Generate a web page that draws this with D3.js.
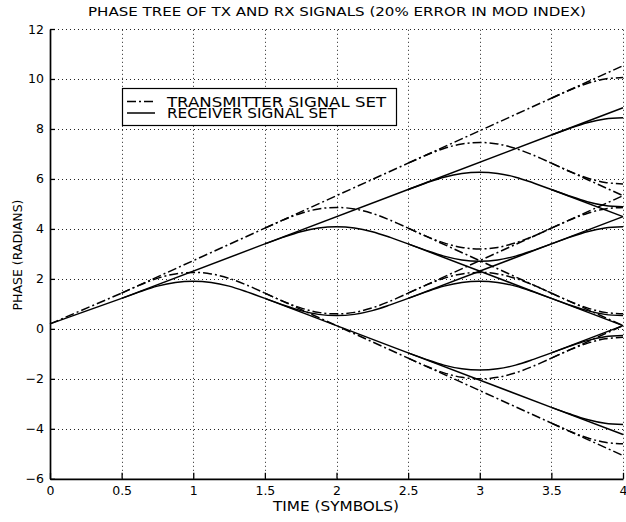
<!DOCTYPE html>
<html><head><meta charset="utf-8">
<script src="https://cdn.jsdelivr.net/npm/d3@7"></script>
<style>
html,body{margin:0;padding:0;background:#fff;}
svg{display:block;}
text{font-family:"DejaVu Sans","Liberation Sans",Arial,sans-serif;fill:#000;}
</style></head><body>
<svg id="chart" width="626" height="522"></svg>
<script>
// ---- data ----
const xTicks = [0, 0.5, 1, 1.5, 2, 2.5, 3, 3.5, 4];
const xTickLabels = ["0", "0.5", "1", "1.5", "2", "2.5", "3", "3.5", "4"];
const yTicks = [-6, -4, -2, 0, 2, 4, 6, 8, 10, 12];
const seriesNames = ["TRANSMITTER SIGNAL SET", "RECEIVER SIGNAL SET"];
const titleText = "PHASE TREE OF TX AND RX SIGNALS (20% ERROR IN MOD INDEX)";
const xTitle = "TIME (SYMBOLS)";
const yTitle = "PHASE (RADIANS)";
const curveStep = 0.125; // time step between values of a curved branch

// straight branches: [t0, phase0, t1, phase1]
const txLines = [
  [0, 0.20, 0.5, 1.43],
  [0.5, 1.43, 1.5, 4.03],
  [1.5, 4.03, 2.5, 6.63],
  [1.5, 1.43, 2.5, -1.17],
  [2.5, 6.63, 3.5, 9.23],
  [2.5, 4.03, 3.5, 1.43],
  [2.5, 1.43, 3.5, 4.03],
  [2.5, -1.17, 3.5, -3.77],
  [3.5, 9.23, 4, 10.53],
  [3.5, 6.63, 4, 5.33],
  [3.5, 4.03, 4, 5.33],
  [3.5, 1.43, 4, 0.13],
  [3.5, -1.17, 4, 0.13],
  [3.5, -3.77, 4, -5.07]
];
const rxLines = [
  [0, 0.20, 0.5, 1.22],
  [0.5, 1.22, 1.5, 3.40],
  [1.5, 3.40, 2.5, 5.58],
  [1.5, 1.22, 2.5, -0.96],
  [2.5, 5.58, 3.5, 7.76],
  [2.5, 3.40, 3.5, 1.22],
  [2.5, 1.22, 3.5, 3.40],
  [2.5, -0.96, 3.5, -3.14],
  [3.5, 7.76, 4, 8.85],
  [3.5, 5.58, 4, 4.49],
  [3.5, 3.40, 4, 4.49],
  [3.5, 1.22, 4, 0.13],
  [3.5, -0.96, 4, 0.13],
  [3.5, -3.14, 4, -4.23]
];

// curved branches: [t0, phases every curveStep]
const txCurves = [
  [0.5, [1.43, 1.75, 2.02, 2.20, 2.26, 2.20, 2.02, 1.75, 1.43]],
  [1.5, [4.03, 4.35, 4.62, 4.80, 4.86, 4.80, 4.62, 4.35, 4.03]],
  [1.5, [1.43, 1.11, 0.84, 0.66, 0.60, 0.66, 0.84, 1.11, 1.43]],
  [2.5, [6.63, 6.95, 7.22, 7.40, 7.46, 7.40, 7.22, 6.95, 6.63]],
  [2.5, [4.03, 3.71, 3.44, 3.26, 3.20, 3.26, 3.44, 3.71, 4.03]],
  [2.5, [1.43, 1.75, 2.02, 2.20, 2.26, 2.20, 2.02, 1.75, 1.43]],
  [2.5, [-1.17, -1.49, -1.76, -1.94, -2.00, -1.94, -1.76, -1.49, -1.17]],
  [3.5, [9.23, 9.55, 9.82, 10.00, 10.06]],
  [3.5, [6.63, 6.31, 6.04, 5.86, 5.80]],
  [3.5, [4.03, 4.35, 4.62, 4.80, 4.86]],
  [3.5, [1.43, 1.11, 0.84, 0.66, 0.60]],
  [3.5, [-1.17, -0.85, -0.58, -0.40, -0.34]],
  [3.5, [-3.77, -4.09, -4.36, -4.54, -4.60]]
];
const rxCurves = [
  [0.5, [1.22, 1.48, 1.71, 1.86, 1.91, 1.86, 1.71, 1.48, 1.22]],
  [1.5, [3.40, 3.66, 3.89, 4.04, 4.09, 4.04, 3.89, 3.66, 3.40]],
  [1.5, [1.22, 0.96, 0.73, 0.58, 0.53, 0.58, 0.73, 0.96, 1.22]],
  [2.5, [5.58, 5.84, 6.07, 6.22, 6.27, 6.22, 6.07, 5.84, 5.58]],
  [2.5, [3.40, 3.14, 2.91, 2.76, 2.71, 2.76, 2.91, 3.14, 3.40]],
  [2.5, [1.22, 1.48, 1.71, 1.86, 1.91, 1.86, 1.71, 1.48, 1.22]],
  [2.5, [-0.96, -1.22, -1.45, -1.60, -1.65, -1.60, -1.45, -1.22, -0.96]],
  [3.5, [7.76, 8.02, 8.25, 8.40, 8.45]],
  [3.5, [5.58, 5.32, 5.09, 4.94, 4.89]],
  [3.5, [3.40, 3.66, 3.89, 4.04, 4.09]],
  [3.5, [1.22, 0.96, 0.73, 0.58, 0.53]],
  [3.5, [-0.96, -0.70, -0.47, -0.32, -0.27]],
  [3.5, [-3.14, -3.40, -3.63, -3.78, -3.83]]
];

// ---- drawing ----
const svg = d3.select("#chart");
const pLeft = 50, pRight = 623, pTop = 29, pBottom = 478.8;
const x = d3.scaleLinear().domain([0, 4]).range([pLeft, pRight]);
const y = d3.scaleLinear().domain([-6, 12]).range([pBottom, pTop]);

svg.append("rect").attr("width", 626).attr("height", 522).attr("fill", "#fff");

// grid (dotted)
const grid = svg.append("g").attr("stroke", "#222").attr("stroke-width", 1)
  .attr("stroke-dasharray", "1,3").attr("fill", "none");
grid.selectAll("line.v").data(xTicks.filter(d => d !== 0)).join("line")
  .attr("class", "v")
  .attr("x1", d => Math.round(x(d)) + 0.5).attr("x2", d => Math.round(x(d)) + 0.5)
  .attr("y1", y(-6)).attr("y2", y(12));
grid.selectAll("line.h").data(yTicks.filter(d => d !== -6)).join("line")
  .attr("class", "h")
  .attr("y1", d => Math.round(y(d)) + 0.5).attr("y2", d => Math.round(y(d)) + 0.5)
  .attr("x1", x(0)).attr("x2", x(4));

// branches
const lineGen = d3.line().x(d => x(d[0])).y(d => y(d[1]));
const curveGen = d3.line().x(d => x(d[0])).y(d => y(d[1])).curve(d3.curveCatmullRom.alpha(0.5));
function curvePoints(c) { return c[1].map((v, i) => [c[0] + i * curveStep, v]); }

function drawSeries(lines, curves, dash) {
  const g = svg.append("g").attr("fill", "none").attr("stroke", "#000")
    .attr("stroke-width", 1.5).attr("stroke-linecap", "butt");
  if (dash) g.attr("stroke-dasharray", dash);
  g.selectAll("path.l").data(lines).join("path").attr("class", "l")
    .attr("d", d => lineGen([[d[0], d[1]], [d[2], d[3]]]));
  g.selectAll("path.c").data(curves).join("path").attr("class", "c")
    .attr("d", d => curveGen(curvePoints(d)));
}
drawSeries(txLines, txCurves, "9,3,2,3");
drawSeries(rxLines, rxCurves, null);

// axes
const axL = svg.append("g").attr("transform", `translate(${pLeft},0)`)
  .call(d3.axisLeft(y).tickValues(yTicks).tickSizeInner(-5).tickSizeOuter(0).tickPadding(6).tickFormat(d3.format("d")));
const axB = svg.append("g").attr("transform", `translate(0,${pBottom})`)
  .call(d3.axisBottom(x).tickValues(xTicks).tickSizeInner(-6).tickSizeOuter(0).tickPadding(7.5)
    .tickFormat((d, i) => xTickLabels[i]));
[axL, axB].forEach(a => {
  a.select(".domain").attr("stroke", "#000").attr("stroke-width", 1.7);
  a.selectAll(".tick line").attr("stroke", "#000").attr("stroke-width", 1.3);
  a.selectAll(".tick text").attr("font-family", "DejaVu Sans, Liberation Sans, Arial, sans-serif")
    .attr("font-size", 12.5).attr("fill", "#000");
});

// title & axis titles
svg.append("text").attr("x", 337).attr("y", 16).attr("text-anchor", "middle")
  .attr("font-size", 12).attr("textLength", 498).attr("lengthAdjust", "spacingAndGlyphs")
  .text(titleText);
svg.append("text").attr("x", 336).attr("y", 511).attr("text-anchor", "middle")
  .attr("font-size", 13.5).attr("textLength", 126).attr("lengthAdjust", "spacingAndGlyphs")
  .text(xTitle);
svg.append("text").attr("transform", "translate(22,255) rotate(-90)").attr("text-anchor", "middle")
  .attr("font-size", 12.5).text(yTitle);

// legend
const lg = svg.append("g");
lg.append("rect").attr("x", 122.5).attr("y", 88.5).attr("width", 274).attr("height", 37)
  .attr("fill", "#fff").attr("stroke", "#000").attr("stroke-width", 1.2);
const legendDash = ["9,3,2,3", null];
const legendLen = [219, 170];
seriesNames.forEach((name, i) => {
  const ly = 101.5 + i * 11.5;
  const ln = lg.append("line").attr("x1", 127).attr("x2", 155).attr("y1", ly).attr("y2", ly)
    .attr("stroke", "#000").attr("stroke-width", 1.5);
  if (legendDash[i]) ln.attr("stroke-dasharray", legendDash[i]);
  lg.append("text").attr("x", 167).attr("y", 106.5 + i * 11)
    .attr("font-size", 13.5).attr("textLength", legendLen[i]).attr("lengthAdjust", "spacingAndGlyphs")
    .text(name);
});
</script>
</body></html>
